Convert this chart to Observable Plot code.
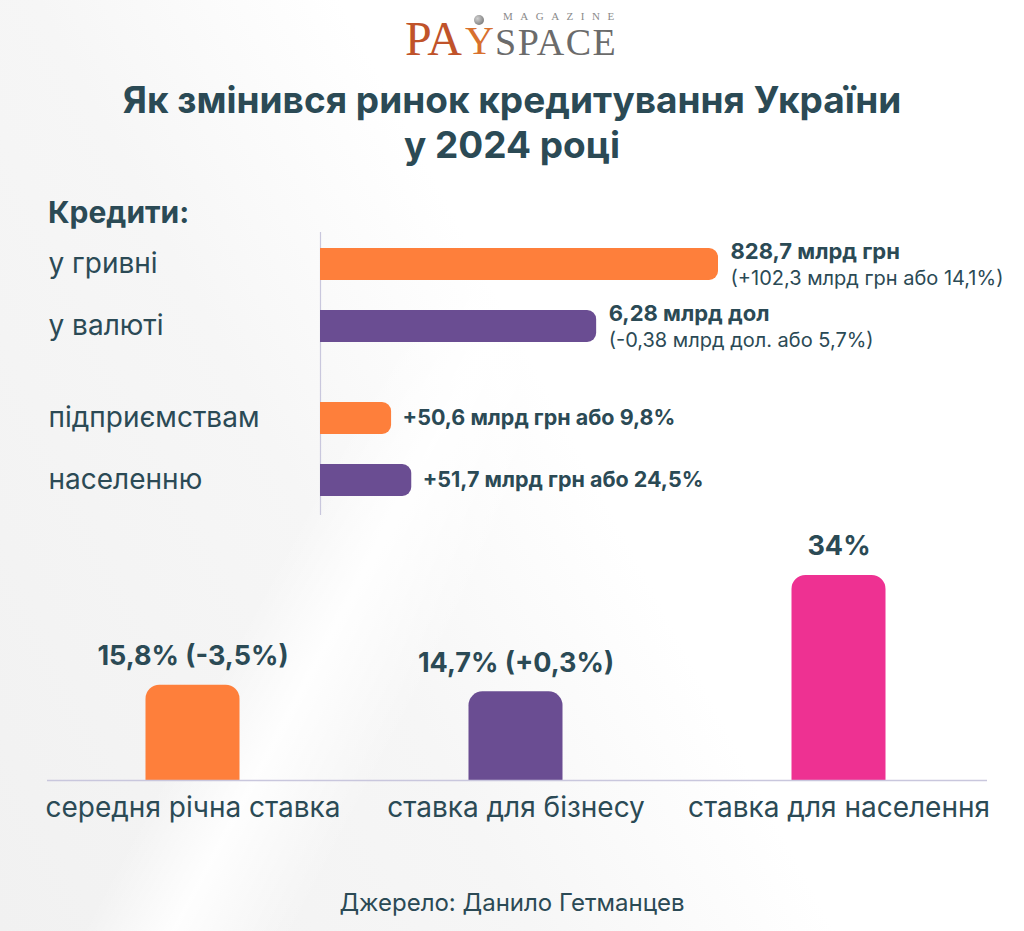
<!DOCTYPE html>
<html>
<head>
<meta charset="utf-8">
<script src="https://cdn.jsdelivr.net/npm/d3@7"></script>
<script src="https://cdn.jsdelivr.net/npm/@observablehq/plot@0.6"></script>
<style>
  html, body { margin: 0; padding: 0; }
  body {
    width: 1024px; height: 931px; position: relative; overflow: hidden;
    font-family: Inter, "Noto Sans", sans-serif; color: #2b4a55;
    background:
      linear-gradient(118deg, rgba(0,0,0,0) 0%, rgba(0,0,0,0) 38%, rgba(255,255,255,0.9) 44%, rgba(255,255,255,0) 52%),
      linear-gradient(62deg, #f1f1f1 0%, #f6f6f6 35%, #ffffff 55%, #ffffff 100%);
  }
  .abs { position: absolute; }
  .lg { position: absolute; font-family: "Liberation Serif", "DejaVu Serif", serif; white-space: nowrap; }
  #pa { left: 405px; top: 15px; font-size: 48px; line-height: 48px; color: #c0532a; }
  #yy { left: 465px; top: 21px; font-size: 40px; line-height: 40px; color: #d8702e; }
  #sp { left: 495px; top: 23px; font-size: 38px; line-height: 38px; color: #6b6b6b; letter-spacing: 1.5px; }
  #mag { position: absolute; left: 503px; top: 10px; font-family: "Liberation Serif", "DejaVu Serif", serif; font-size: 11px; line-height: 12px; letter-spacing: 7.5px; color: #8a8a8a; white-space: nowrap; }
  #ball { position: absolute; left: 474px; top: 15px; width: 10px; height: 10px; border-radius: 50%; background: radial-gradient(circle at 35% 35%, #d0d0d0, #666); }
  #title { left: 0; width: 1024px; top: 77px; text-align: center; font-weight: 700; font-size: 37px; line-height: 45px; }
  #hdr { left: 48px; top: 194px; font-weight: 700; font-size: 30px; line-height: 36px; }
  #chartA { left: 0; top: 232px; }
  #chartB { left: 0; top: 358px; }
  #chartC { left: 0; top: 520px; }
  #src { left: 0; width: 1024px; top: 888px; text-align: center; font-size: 24px; line-height: 30px; }
  svg { display: block; }
</style>
</head>
<body>
<span id="mag">MAGAZINE</span>
<span id="pa" class="lg">PA</span><span id="yy" class="lg">Y</span><span id="sp" class="lg">SPACE</span>
<span id="ball"></span>
<div id="title" class="abs">Як змінився ринок кредитування України<br>у 2024 році</div>
<div id="hdr" class="abs">Кредити:</div>
<div id="chartA" class="abs"></div>
<div id="chartB" class="abs"></div>
<div id="chartC" class="abs"></div>
<div id="src" class="abs">Джерело: Данило Гетманцев</div>
<script>
// ---- Data: credit volumes (bar lengths, scaled so "у гривні" = 828.7)
const currencyCats = ["у гривні", "у валюті"];
const currencyLen = [828.7, 575];
const currencyMain = ["828,7 млрд грн", "6,28 млрд дол"];
const currencySub = ["(+102,3 млрд грн або 14,1%)", "(-0,38 млрд дол. або 5,7%)"];

const borrowerCats = ["підприємствам", "населенню"];
const borrowerLen = [148, 190];
const borrowerMain = ["+50,6 млрд грн або 9,8%", "+51,7 млрд грн або 24,5%"];

const pairColors = ["#fe7f3b", "#6a4d92"];

// ---- Data: rates
const rateCats = ["середня річна ставка", "ставка для бізнесу", "ставка для населення"];
const rateValues = [15.8, 14.7, 34];
const rateLabels = ["15,8% (-3,5%)", "14,7% (+0,3%)", "34%"];
const rateColors = ["#fe7f3b", "#6a4d92", "#ee3192"];

const TEXT = "#2b4a55";
const AXIS = "#c9c7dd";
const FONT = "Inter, 'Noto Sans', sans-serif";

function hbar(cats, lens, mains, subs, opts) {
  const data = cats.map((c, i) => ({cat: c, len: lens[i], main: mains[i], sub: subs ? subs[i] : null}));
  const marks = [
    Plot.ruleX([0], {stroke: AXIS, strokeWidth: 1.2}),
    Plot.barX(data, {x: "len", y: "cat", fill: "cat", rx2: 9}),
    Plot.text(data, {y: "cat", text: "cat", frameAnchor: "left", textAnchor: "start", lineAnchor: "middle", dx: -272, fontSize: 28, fill: TEXT}),
  ];
  if (subs) {
    marks.push(Plot.text(data, {x: "len", y: "cat", text: "main", textAnchor: "start", dx: 12, dy: -13, fontSize: 22, fontWeight: 700, fill: TEXT}));
    marks.push(Plot.text(data, {x: "len", y: "cat", text: "sub", textAnchor: "start", dx: 12, dy: 14, fontSize: 20, fill: TEXT}));
  } else {
    marks.push(Plot.text(data, {x: "len", y: "cat", text: "main", textAnchor: "start", dx: 11, dy: 0, fontSize: 21.5, fontWeight: 700, fill: TEXT}));
  }
  return Plot.plot({
    width: 1024, height: opts.height,
    marginLeft: 320, marginRight: 306, marginTop: 0, marginBottom: 0,
    style: {fontFamily: FONT, background: "transparent", overflow: "visible"},
    x: {domain: [0, 828.7], axis: null},
    y: {domain: cats, axis: null, paddingInner: 30 / 62, paddingOuter: opts.po, align: opts.align},
    color: {domain: cats, range: pairColors},
    marks
  });
}

document.getElementById("chartA").append(
  hbar(currencyCats, currencyLen, currencyMain, currencySub, {height: 126, po: 0.258, align: 0.5})
);
document.getElementById("chartB").append(
  hbar(borrowerCats, borrowerLen, borrowerMain, null, {height: 157, po: 0.508, align: 0.698})
);

// ---- Rates chart
const rates = rateCats.map((c, i) => ({cat: c, v: rateValues[i], label: rateLabels[i]}));
document.getElementById("chartC").append(Plot.plot({
  width: 1024, height: 320,
  marginLeft: 47, marginRight: 37, marginTop: 55, marginBottom: 60,
  style: {fontFamily: FONT, background: "transparent", overflow: "visible"},
  x: {domain: rateCats, range: [30, 1000], padding: 0, axis: null},
  y: {domain: [0, 34], axis: null},
  color: {domain: rateCats, range: rateColors},
  marks: [
    Plot.barY(rates, {x: "cat", y: "v", fill: "cat", insetLeft: 114.5, insetRight: 114.5, ry1: 14}),
    Plot.ruleY([0], {stroke: AXIS, strokeWidth: 1.5}),
    Plot.text(rates, {x: "cat", y: "v", text: "label", lineAnchor: "middle", dy: -29, fontSize: 27, fontWeight: 700, fill: TEXT}),
    Plot.text(rates, {x: "cat", text: "cat", frameAnchor: "bottom", lineAnchor: "middle", dy: 28, fontSize: 28, fill: TEXT})
  ]
}));
</script>
</body>
</html>
